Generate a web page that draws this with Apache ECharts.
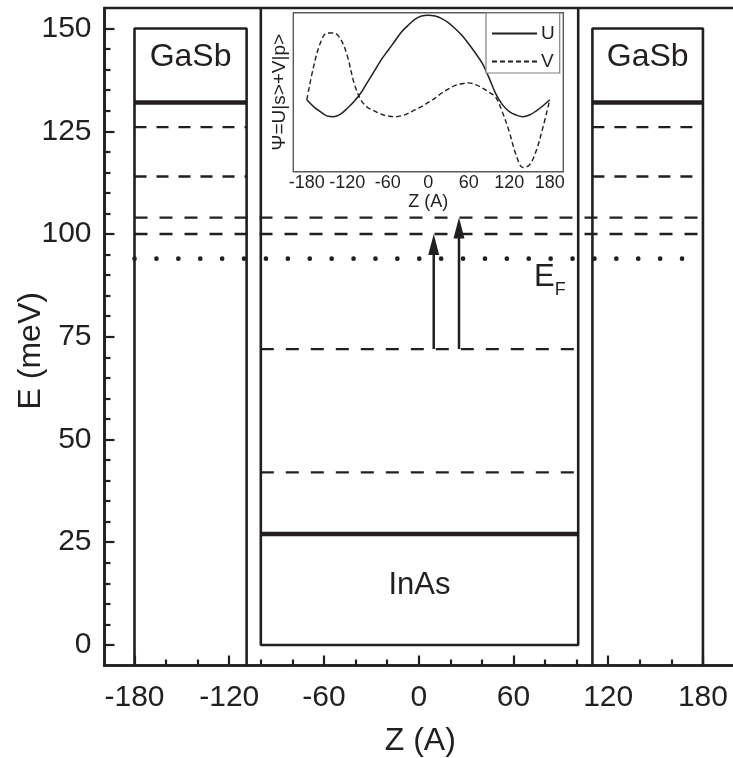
<!DOCTYPE html>
<html>
<head>
<meta charset="utf-8">
<script src="https://cdn.jsdelivr.net/npm/echarts@6/dist/echarts.min.js"></script>
<style>
  html, body { margin: 0; padding: 0; background: #fff; }
  #chart { width: 733px; height: 758px; }
</style>
</head>
<body>
<div id="chart"></div>
<script>
// ---- Band diagram of a GaSb / InAs / GaSb quantum well ----

// Axis ticks (main plot)
const zMajorTicks = [-180, -120, -60, 0, 60, 120, 180];
const zMinorTicks = [-160, -140, -100, -80, -40, -20, 20, 40, 80, 100, 140, 160];
const eMajorTicks = [0, 25, 50, 75, 100, 125, 150];
const eMinorTicks = [5, 10, 15, 20, 30, 35, 40, 45, 55, 60, 65, 70, 80, 85, 90, 95,
                     105, 110, 115, 120, 130, 135, 140, 145];

// Layer boundaries along Z (Å)
const gasbLeft = [-180, -109];
const gasbRight = [110, 180];
const inasWell = [-100, 101];

// Band edges (meV)
const barrierTop = 150;
const wellBottom = 0;

// Energy levels (meV)
const gasbSolidLevel = 132;
const gasbDashedLevels = [126, 114];
const sharedDashedLevels = [104, 100];
const fermiLevel = 94;
const wellDashedLevels = [72, 42];
const wellSolidLevel = 27;

// Optical transitions: [z, from E, to E]
const transitions = [[9.5, 72, 100], [25.5, 72, 104]];

// Text annotations: [z, E, text, font size]
const annotations = [
  [(gasbLeft[0] + gasbLeft[1]) / 2, 143, 'GaSb', 32],
  [(gasbRight[0] + gasbRight[1]) / 2, 143, 'GaSb', 32],
  [(inasWell[0] + inasWell[1]) / 2, 14.5, 'InAs', 31],
  [79.5, 89.4, 'E', 31],
  [89.6, 86.3, 'F', 18]
];

// Inset: envelope components of Ψ = U|s> + V|p>
const insetZ = [-180, -170, -160, -150, -140, -130, -120, -110, -100, -90, -80, -70, -60, -50,
                -40, -30, -20, -10, 0, 10, 20, 30, 40, 50, 60, 70, 80, 90, 100, 110, 120,
                130, 140, 150, 160, 170, 180];
const insetU = [0.00, -0.08, -0.14, -0.19, -0.20, -0.17, -0.10, -0.02, 0.08, 0.21, 0.34, 0.47,
                0.58, 0.69, 0.80, 0.88, 0.95, 0.99, 1.00, 0.99, 0.96, 0.91, 0.84, 0.76, 0.66,
                0.55, 0.43, 0.26, 0.07, -0.06, -0.14, -0.18, -0.20, -0.18, -0.13, -0.07, 0.00];
const insetV = [0.00, 0.39, 0.67, 0.79, 0.79, 0.72, 0.52, 0.20, 0.00, -0.09, -0.13, -0.17,
                -0.19, -0.20, -0.19, -0.16, -0.12, -0.08, -0.03, 0.02, 0.08, 0.13, 0.17, 0.19,
                0.20, 0.18, 0.14, 0.09, 0.03, -0.15, -0.38, -0.65, -0.80, -0.77, -0.60, -0.32, 0.00];
const insetYTicks = [-0.8, -0.6, -0.4, -0.2, 0, 0.2, 0.4, 0.6, 0.8, 1.0];

// ---- styling ----
const ink = '#231f20';
const font = "'Liberation Sans', Arial, Helvetica, sans-serif";
const eMin = -5, eMax = 155;
const zMin = -199, zMax = 201;

const boxStyle = { color: ink, width: 2.6 };
const thickStyle = { color: ink, width: 4.6 };
const dashStyle = { color: ink, width: 2.4, type: [13, 12] };
const gasbDashStyle = { color: ink, width: 2.4, type: [12, 10] };
const dotStyle = { color: ink, width: 4.6, type: [0.1, 21.8], cap: 'round' };

function polyline(points, style) {
  return {
    type: 'line', xAxisIndex: 0, yAxisIndex: 0, data: points,
    showSymbol: false, symbol: 'none', silent: true, z: 3,
    lineStyle: style
  };
}
function level(x0, x1, e, style) {
  return polyline([[x0, e], [x1, e]], style);
}

const series = [];

// Layer outlines
series.push(polyline([[gasbLeft[0], eMin], [gasbLeft[0], barrierTop], [gasbLeft[1], barrierTop], [gasbLeft[1], eMin]], boxStyle));
series.push(polyline([[gasbRight[0], eMin], [gasbRight[0], barrierTop], [gasbRight[1], barrierTop], [gasbRight[1], eMin]], boxStyle));
series.push(polyline([[inasWell[0], eMax], [inasWell[0], wellBottom], [inasWell[1], wellBottom], [inasWell[1], eMax]], boxStyle));

// Levels in the GaSb barriers
[gasbLeft, gasbRight].forEach(r => {
  series.push(level(r[0], r[1], gasbSolidLevel, thickStyle));
  gasbDashedLevels.forEach(e => series.push(level(r[0], r[1], e, gasbDashStyle)));
});
// Levels across the whole structure
sharedDashedLevels.forEach(e => series.push(level(gasbLeft[0], gasbRight[1], e, dashStyle)));
series.push(level(gasbLeft[0], gasbRight[1], fermiLevel, dotStyle));
// Levels in the InAs well
wellDashedLevels.forEach(e => series.push(level(inasWell[0], inasWell[1], e, dashStyle)));
series.push(level(inasWell[0], inasWell[1], wellSolidLevel, thickStyle));

// Transition arrows (shaft + filled head whose tip sits on the upper level)
series.push({
  type: 'custom', coordinateSystem: 'cartesian2d', xAxisIndex: 0, yAxisIndex: 0,
  silent: true, z: 5,
  data: transitions,
  renderItem: function (params, api) {
    const t = transitions[params.dataIndex];
    const a = api.coord([t[0], t[1]]);
    const b = api.coord([t[0], t[2]]);
    const headLen = 21, headHalf = 5.5;
    return {
      type: 'group',
      children: [
        { type: 'line', shape: { x1: a[0], y1: a[1], x2: b[0], y2: b[1] + headLen - 2 },
          style: { stroke: ink, lineWidth: 2.5 } },
        { type: 'polygon',
          shape: { points: [[b[0], b[1]], [b[0] - headHalf, b[1] + headLen], [b[0] + headHalf, b[1] + headLen]] },
          style: { fill: ink } }
      ]
    };
  }
});

// Region labels and the Fermi level label
series.push({
  type: 'custom', coordinateSystem: 'cartesian2d', xAxisIndex: 0, yAxisIndex: 0,
  silent: true, z: 6,
  data: annotations.map(a => [a[0], a[1]]),
  renderItem: function (params, api) {
    const a = annotations[params.dataIndex];
    const p = api.coord([a[0], a[1]]);
    return {
      type: 'text', x: p[0], y: p[1],
      style: { text: a[2], fill: ink, font: a[3] + 'px ' + font, align: 'center', verticalAlign: 'middle' }
    };
  }
});

// Inset curves
series.push({
  name: 'U', type: 'line', xAxisIndex: 2, yAxisIndex: 2, smooth: 0.35,
  showSymbol: false, symbol: 'none', silent: true, z: 4,
  itemStyle: { color: ink },
  lineStyle: { color: ink, width: 1.5 },
  data: insetZ.map((z, i) => [z, insetU[i]])
});
series.push({
  name: 'V', type: 'line', xAxisIndex: 2, yAxisIndex: 2, smooth: 0.35,
  showSymbol: false, symbol: 'none', silent: true, z: 4,
  itemStyle: { color: ink },
  lineStyle: { color: ink, width: 1.4, type: [5, 3] },
  data: insetZ.map((z, i) => [z, insetV[i]])
});

const option = {
  animation: false,
  backgroundColor: '#fff',
  textStyle: { fontFamily: font },
  grid: [
    { left: 104.5, top: 8, width: 631.6, height: 657.5, show: true, outerBoundsMode: 'none',
      containLabel: false, borderColor: ink, borderWidth: 2.6, backgroundColor: 'transparent' },
    { left: 293.3, top: 12.7, width: 270, height: 159, show: true, z: 4, outerBoundsMode: 'none',
      containLabel: false, borderColor: '#5a5a5a', borderWidth: 1.4, backgroundColor: '#fff' }
  ],
  xAxis: [
    { gridIndex: 0, type: 'value', min: zMin, max: zMax, position: 'bottom',
      axisLine: { show: true, onZero: false, lineStyle: { color: ink, width: 2.6 } },
      axisTick: { show: true, inside: true, length: 10, customValues: zMajorTicks,
                  lineStyle: { color: ink, width: 2.2 } },
      axisLabel: { customValues: zMajorTicks, fontSize: 30, margin: 17, color: ink, fontFamily: font },
      splitLine: { show: false },
      name: 'Z (A)', nameLocation: 'middle', nameGap: 60,
      nameTextStyle: { fontSize: 32, color: ink, fontFamily: font } },
    { gridIndex: 0, type: 'value', min: zMin, max: zMax, position: 'bottom',
      axisLine: { show: false, onZero: false },
      axisTick: { show: true, inside: true, length: 6, customValues: zMinorTicks,
                  lineStyle: { color: ink, width: 2.2 } },
      axisLabel: { show: false }, splitLine: { show: false } },
    { gridIndex: 1, type: 'value', min: -200, max: 200, position: 'bottom',
      axisLine: { show: false, onZero: false },
      axisTick: { show: true, inside: true, length: 5, customValues: zMajorTicks,
                  lineStyle: { color: '#444', width: 1.2 } },
      axisLabel: { customValues: zMajorTicks, fontSize: 18, margin: 2, color: ink, fontFamily: font },
      splitLine: { show: false },
      name: 'Z (A)', nameLocation: 'middle', nameGap: 16,
      nameTextStyle: { fontSize: 18, color: ink, fontFamily: font } },
    { gridIndex: 1, type: 'value', min: -200, max: 200, position: 'bottom',
      axisLine: { show: false, onZero: false },
      axisTick: { show: true, inside: true, length: 3, customValues: zMinorTicks,
                  lineStyle: { color: '#444', width: 1.2 } },
      axisLabel: { show: false }, splitLine: { show: false } }
  ],
  yAxis: [
    { gridIndex: 0, type: 'value', min: eMin, max: eMax, position: 'left',
      axisLine: { show: true, onZero: false, lineStyle: { color: ink, width: 2.6 } },
      axisTick: { show: true, inside: true, length: 10, customValues: eMajorTicks,
                  lineStyle: { color: ink, width: 2.2 } },
      axisLabel: { customValues: eMajorTicks, fontSize: 30, margin: 13, color: ink, fontFamily: font },
      splitLine: { show: false },
      name: 'E (meV)', nameLocation: 'middle', nameGap: 57, nameRotate: 90, nameMoveOverlap: false,
      nameTextStyle: { fontSize: 32, color: ink, fontFamily: font, padding: [0, 28, 0, 0] } },
    { gridIndex: 0, type: 'value', min: eMin, max: eMax, position: 'left',
      axisLine: { show: false, onZero: false },
      axisTick: { show: true, inside: true, length: 6, customValues: eMinorTicks,
                  lineStyle: { color: ink, width: 2.2 } },
      axisLabel: { show: false }, splitLine: { show: false } },
    { gridIndex: 1, type: 'value', min: -0.85, max: 1.03, position: 'left',
      axisLine: { show: false, onZero: false },
      axisTick: { show: true, inside: true, length: 5, customValues: insetYTicks,
                  lineStyle: { color: '#444', width: 1.2 } },
      axisLabel: { show: false }, splitLine: { show: false },
      name: 'Ψ=U|s>+V|p>', nameLocation: 'middle', nameGap: 4, nameRotate: 90,
      nameTextStyle: { fontSize: 19, color: ink, fontFamily: font } }
  ],
  legend: {
    data: ['U', 'V'], orient: 'vertical', left: 486, top: 13,
    padding: [11, 5, 2, 5], itemGap: 9, itemWidth: 45, itemHeight: 18,
    backgroundColor: '#fff', borderColor: '#808080', borderWidth: 1.2, borderRadius: 0,
    itemStyle: { opacity: 0 },
    textStyle: { fontSize: 19, color: ink, fontFamily: font, padding: [0, 0, 0, -1] },
    selectedMode: false, z: 8
  },
  series: series
};

const chart = echarts.init(document.getElementById('chart'), null, { renderer: 'canvas' });
chart.setOption(option);
</script>
</body>
</html>
